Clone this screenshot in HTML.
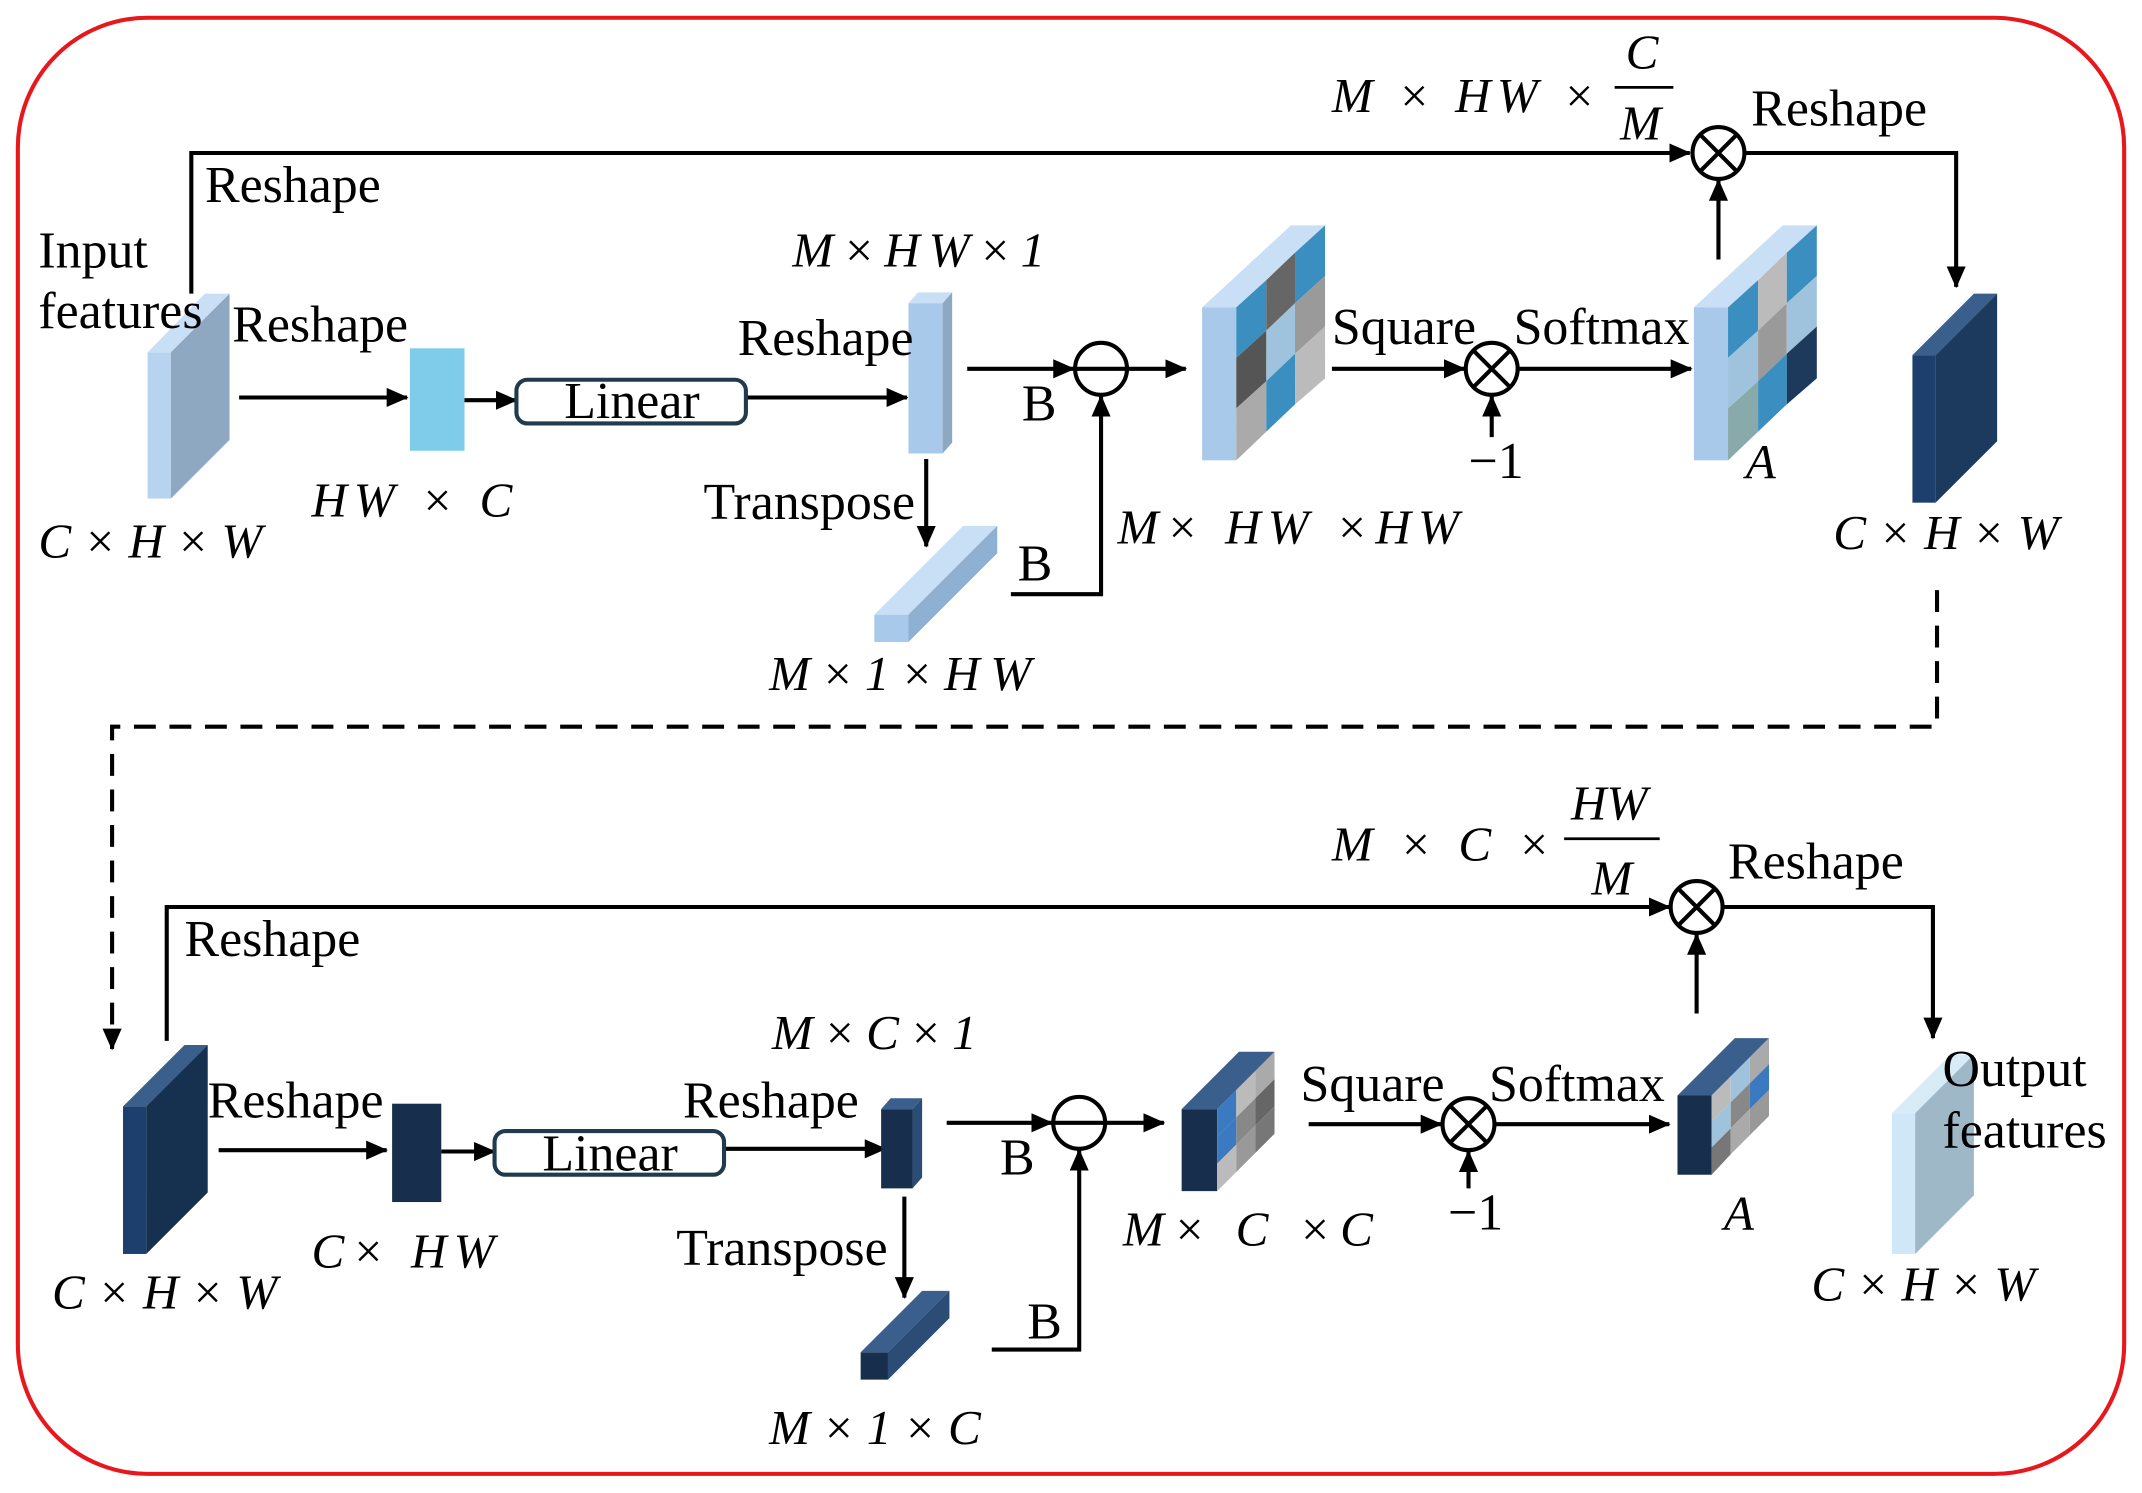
<!DOCTYPE html>
<html><head><meta charset="utf-8"><style>
html,body{margin:0;padding:0;background:#fff}
svg{display:block}
text{font-family:"Liberation Serif",serif;font-size:38px;fill:#000}
.i{font-style:italic;font-size:36px}
</style></head><body>
<svg width="2142" height="1493" viewBox="0 0 1568 1093" xmlns="http://www.w3.org/2000/svg">
<defs>
<marker id="b" markerWidth="16" markerHeight="16" refX="15" refY="8" orient="auto" markerUnits="userSpaceOnUse"><path d="M0,1 L16,8 L0,15 z" fill="#000"/></marker>
</defs>
<rect x="13" y="13" width="1542" height="1066" rx="95" fill="none" stroke="#e8171c" stroke-width="3"/>
<g stroke="#000" stroke-width="3" fill="none">
<polyline points="140,215 140,112 1237,112" marker-end="url(#b)"/>
<line x1="175" y1="291" x2="298" y2="291" marker-end="url(#b)"/>
<line x1="340" y1="293" x2="378" y2="293" marker-end="url(#b)"/>
<line x1="546" y1="291" x2="664" y2="291" marker-end="url(#b)"/>
<line x1="678" y1="336" x2="678" y2="400" marker-end="url(#b)"/>
<line x1="708" y1="270" x2="786" y2="270" marker-end="url(#b)"/>
<polyline points="740,435 806,435 806,290" marker-end="url(#b)"/>
<line x1="826" y1="270" x2="868" y2="270" marker-end="url(#b)"/>
<line x1="975" y1="270" x2="1072" y2="270" marker-end="url(#b)"/>
<line x1="1092" y1="320" x2="1092" y2="290" marker-end="url(#b)"/>
<line x1="1112" y1="270" x2="1238" y2="270" marker-end="url(#b)"/>
<line x1="1258" y1="190" x2="1258" y2="132" marker-end="url(#b)"/>
<polyline points="1277,112 1432,112 1432,210" marker-end="url(#b)"/>
<line x1="1182" y1="64" x2="1225" y2="64" stroke-width="2"/>
<polyline points="1418,432 1418,532 82,532 82,768" stroke-dasharray="16,10" marker-end="url(#b)"/>
<polyline points="122,762 122,664 1222,664" marker-end="url(#b)"/>
<polyline points="1262,664 1415,664 1415,760" marker-end="url(#b)"/>
<line x1="1145" y1="614" x2="1215" y2="614" stroke-width="2"/>
<line x1="160" y1="842" x2="283" y2="842" marker-end="url(#b)"/>
<line x1="323" y1="843" x2="362" y2="843" marker-end="url(#b)"/>
<line x1="530" y1="841" x2="648" y2="841" marker-end="url(#b)"/>
<line x1="662" y1="876" x2="662" y2="950" marker-end="url(#b)"/>
<line x1="693" y1="822" x2="770" y2="822" marker-end="url(#b)"/>
<polyline points="726,988 790,988 790,842" marker-end="url(#b)"/>
<line x1="810" y1="822" x2="852" y2="822" marker-end="url(#b)"/>
<line x1="958" y1="823" x2="1055" y2="823" marker-end="url(#b)"/>
<line x1="1075" y1="870" x2="1075" y2="843" marker-end="url(#b)"/>
<line x1="1095" y1="823" x2="1222" y2="823" marker-end="url(#b)"/>
<line x1="1242" y1="742" x2="1242" y2="684" marker-end="url(#b)"/>
<circle cx="1258" cy="112" r="19" fill="#fff"/><path d="M1245,99 L1271,125 M1271,99 L1245,125"/>
<circle cx="806" cy="270" r="19" fill="#fff"/><path d="M787,270 L825,270"/>
<circle cx="1092" cy="270" r="19" fill="#fff"/><path d="M1079,257 L1105,283 M1105,257 L1079,283"/>
<circle cx="1242" cy="664" r="19" fill="#fff"/><path d="M1229,651 L1255,677 M1255,651 L1229,677"/>
<circle cx="790" cy="822" r="19" fill="#fff"/><path d="M771,822 L809,822"/>
<circle cx="1075" cy="823" r="19" fill="#fff"/><path d="M1062,810 L1088,836 M1088,810 L1062,836"/>
<rect x="378" y="278" width="168" height="32" rx="8" stroke="#1f3b4d"/>
<rect x="362" y="828" width="168" height="32" rx="8" stroke="#1f3b4d"/>
</g>
<polygon points="108,258 150,215 168,215 125,258" fill="#c9dff5"/>
<rect x="108" y="258" width="17" height="107" fill="#b7d3f0"/>
<polygon points="125,258 168,215 168,322 125,365" fill="#8ea8c2"/>
<rect x="300" y="255" width="40" height="75" fill="#7fcbea"/>
<polygon points="665,222 672,214 697,214 690,222" fill="#c9dff5"/>
<rect x="665" y="222" width="25" height="110" fill="#a9c9ea"/>
<polygon points="690,222 697,214 697,324 690,332" fill="#8ea8c2"/>
<polygon points="640,450 705,385 730,385 665,450" fill="#c9dff5"/>
<rect x="640" y="450" width="25" height="20" fill="#a9c9ea"/>
<polygon points="665,450 730,385 730,405 665,470" fill="#8eb0d2"/>
<g>
<polygon points="880,225 945,165 970,165 905,225" fill="#c9dff5"/>
<rect x="880" y="225" width="25" height="112" fill="#a9c9ea"/>
<polygon points="905,225 927,205 927,242 905,262" fill="#3b8fc0"/>
<polygon points="927,205 948,185 948,222 927,242" fill="#666"/>
<polygon points="948,185 970,165 970,202 948,222" fill="#3b8fc0"/>
<polygon points="905,262 927,242 927,279 905,299" fill="#555"/>
<polygon points="927,242 948,222 948,259 927,279" fill="#9fc3dc"/>
<polygon points="948,222 970,202 970,239 948,259" fill="#9a9a9a"/>
<polygon points="905,299 927,279 927,316 905,337" fill="#aaa"/>
<polygon points="927,279 948,259 948,296 927,316" fill="#3b8fc0"/>
<polygon points="948,259 970,239 970,277 948,296" fill="#bbb"/>
</g>
<g>
<polygon points="1240,225 1305,165 1330,165 1265,225" fill="#c9dff5"/>
<rect x="1240" y="225" width="25" height="112" fill="#a9c9ea"/>
<polygon points="1265,225 1287,205 1287,242 1265,262" fill="#3b8fc0"/>
<polygon points="1287,205 1308,185 1308,222 1287,242" fill="#bbb"/>
<polygon points="1308,185 1330,165 1330,202 1308,222" fill="#3b8fc0"/>
<polygon points="1265,262 1287,242 1287,279 1265,299" fill="#9fc3dc"/>
<polygon points="1287,242 1308,222 1308,259 1287,279" fill="#9a9a9a"/>
<polygon points="1308,222 1330,202 1330,239 1308,259" fill="#9fc3dc"/>
<polygon points="1265,299 1287,279 1287,316 1265,337" fill="#8aa"/>
<polygon points="1287,279 1308,259 1308,296 1287,316" fill="#3b8fc0"/>
<polygon points="1308,259 1330,239 1330,277 1308,296" fill="#1d3a5c"/>
</g>
<polygon points="1400,260 1445,215 1462,215 1417,260" fill="#3a5f8c"/>
<rect x="1400" y="260" width="17" height="108" fill="#1c3f6e"/>
<polygon points="1417,260 1462,215 1462,323 1417,368" fill="#1b3a5e"/>
<polygon points="90,810 135,765 152,765 107,810" fill="#3a5f8c"/>
<rect x="90" y="810" width="17" height="108" fill="#1c3f6e"/>
<polygon points="107,810 152,765 152,873 107,918" fill="#16304f"/>
<rect x="287" y="808" width="36" height="72" fill="#172f4d"/>
<polygon points="645,812 652,804 675,804 668,812" fill="#3a5f8c"/>
<rect x="645" y="812" width="23" height="58" fill="#172f4d"/>
<polygon points="668,812 675,804 675,862 668,870" fill="#2b4c74"/>
<polygon points="630,990 675,945 695,945 650,990" fill="#3a5f8c"/>
<rect x="630" y="990" width="20" height="20" fill="#172f4d"/>
<polygon points="650,990 695,945 695,965 650,1010" fill="#2b4c74"/>
<g>
<polygon points="865,812 907,770 933,770 891,812" fill="#3a5f8c"/>
<rect x="865" y="812" width="26" height="60" fill="#172f4d"/>
<polygon points="891,812 905,798 905,818 891,832" fill="#3b7ac0"/>
<polygon points="905,798 919,784 919,804 905,818" fill="#bbb"/>
<polygon points="919,784 933,770 933,790 919,804" fill="#aaa"/>
<polygon points="891,832 905,818 905,838 891,852" fill="#3b7ac0"/>
<polygon points="905,818 919,804 919,824 905,838" fill="#888"/>
<polygon points="919,804 933,790 933,810 919,824" fill="#666"/>
<polygon points="891,852 905,838 905,858 891,872" fill="#bbb"/>
<polygon points="905,838 919,824 919,844 905,858" fill="#999"/>
<polygon points="919,824 933,810 933,830 919,844" fill="#777"/>
</g>
<g>
<polygon points="1228,802 1270,760 1295,760 1253,802" fill="#3a5f8c"/>
<rect x="1228" y="802" width="25" height="58" fill="#172f4d"/>
<polygon points="1253,802 1267,788 1267,807 1253,821" fill="#bbb"/>
<polygon points="1267,788 1281,774 1281,793 1267,807" fill="#9fc3dc"/>
<polygon points="1281,774 1295,760 1295,779 1281,793" fill="#aaa"/>
<polygon points="1253,821 1267,807 1267,826 1253,840" fill="#9fc3dc"/>
<polygon points="1267,807 1281,793 1281,812 1267,826" fill="#888"/>
<polygon points="1281,793 1295,779 1295,798 1281,812" fill="#3b7ac0"/>
<polygon points="1253,840 1267,826 1267,845 1253,860" fill="#777"/>
<polygon points="1267,826 1281,812 1281,831 1267,845" fill="#aaa"/>
<polygon points="1281,812 1295,798 1295,817 1281,831" fill="#999"/>
</g>
<polygon points="1385,815 1428,772 1445,772 1402,815" fill="#d8ecf8"/>
<rect x="1385" y="815" width="17" height="103" fill="#cfe7f7"/>
<polygon points="1402,815 1445,772 1445,875 1402,918" fill="#9fb8c8"/>
<text x="28" y="196">Input</text>
<text x="28" y="240">features</text>
<text x="28" y="408" class="i" textLength="164" lengthAdjust="spacing">C×H×W</text>
<text x="150" y="148">Reshape</text>
<text x="170" y="250">Reshape</text>
<text x="228" y="378" class="i" textLength="147" lengthAdjust="spacing">HW × C</text>
<text x="413" y="306" font-size="40">Linear</text>
<text x="540" y="260">Reshape</text>
<text x="580" y="195" class="i" textLength="185" lengthAdjust="spacing">M×HW×1</text>
<text x="515" y="380">Transpose</text>
<text x="563" y="505" class="i" textLength="192" lengthAdjust="spacing">M×1×HW</text>
<text x="748" y="308">B</text>
<text x="745" y="425">B</text>
<text x="818" y="398" class="i" textLength="250" lengthAdjust="spacing">M× HW ×HW</text>
<text x="975" y="252">Square</text>
<text x="1108" y="252">Softmax</text>
<text x="1075" y="350">−1</text>
<text x="1278" y="350" class="i">A</text>
<text x="975" y="82" class="i" textLength="193" lengthAdjust="spacing">M × HW ×</text>
<text x="1190" y="50" class="i">C</text>
<text x="1186" y="102" class="i">M</text>
<text x="1282" y="92">Reshape</text>
<text x="1342" y="402" class="i" textLength="165" lengthAdjust="spacing">C×H×W</text>
<text x="975" y="630" class="i" textLength="160" lengthAdjust="spacing">M × C ×</text>
<text x="1150" y="600" class="i">HW</text>
<text x="1165" y="655" class="i">M</text>
<text x="1265" y="643">Reshape</text>
<text x="135" y="700">Reshape</text>
<text x="152" y="818">Reshape</text>
<text x="38" y="958" class="i" textLength="165" lengthAdjust="spacing">C×H×W</text>
<text x="228" y="928" class="i" textLength="134" lengthAdjust="spacing">C× HW</text>
<text x="397" y="857" font-size="40">Linear</text>
<text x="500" y="818">Reshape</text>
<text x="565" y="768" class="i" textLength="150" lengthAdjust="spacing">M×C×1</text>
<text x="495" y="926">Transpose</text>
<text x="563" y="1057" class="i" textLength="155" lengthAdjust="spacing">M×1×C</text>
<text x="732" y="860">B</text>
<text x="752" y="980">B</text>
<text x="822" y="912" class="i" textLength="183" lengthAdjust="spacing">M× C ×C</text>
<text x="952" y="806">Square</text>
<text x="1090" y="806">Softmax</text>
<text x="1060" y="900">−1</text>
<text x="1262" y="900" class="i">A</text>
<text x="1422" y="795">Output</text>
<text x="1422" y="840">features</text>
<text x="1326" y="952" class="i" textLength="164" lengthAdjust="spacing">C×H×W</text>
</svg>
</body></html>
